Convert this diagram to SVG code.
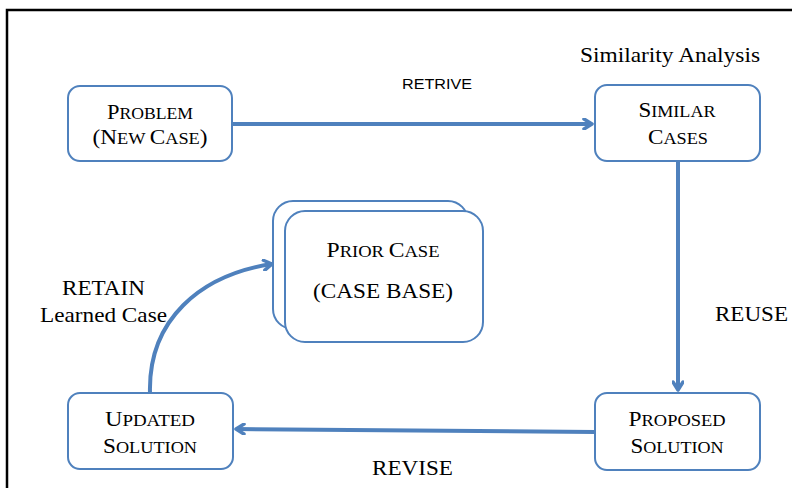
<svg xmlns="http://www.w3.org/2000/svg" width="792" height="488" viewBox="0 0 792 488">
<style>
.box{fill:#fff;stroke:#4F81BD;stroke-width:2}
.con{fill:none;stroke:#4F81BD;stroke-width:4}
.t{font-family:"Liberation Serif","Times New Roman",serif;fill:#000;text-anchor:middle}
.b{font-size:21px}
.s{font-size:16.5px}
.lbl{font-family:"Liberation Serif","Times New Roman",serif;font-size:21px;fill:#000}
</style>
<defs>
<marker id="ah" viewBox="0 0 12 12" refX="10" refY="6" markerWidth="12" markerHeight="12" markerUnits="userSpaceOnUse" orient="auto">
<path d="M2,1 L10,6 L2,11" fill="none" stroke="#4F81BD" stroke-width="3.5" stroke-linecap="round" stroke-linejoin="round"/>
</marker>
</defs>
<rect width="792" height="488" fill="#fff"/>
<path d="M7,488 V10 H792" fill="none" stroke="#000" stroke-width="2.5"/>
<g id="connectors">
<path class="con" d="M232,124 H592" marker-end="url(#ah)"/>
<path class="con" d="M678,161 V390" marker-end="url(#ah)"/>
<path class="con" d="M595,432 L236,429" marker-end="url(#ah)"/>
<path class="con" d="M150,393 C148,320 200,275 272,264" marker-end="url(#ah)"/>
</g>
<text class="lbl" x="580" y="62" textLength="180" lengthAdjust="spacingAndGlyphs">Similarity Analysis</text>
<text x="402" y="89" font-family="Liberation Sans, Arial, sans-serif" font-size="15" textLength="70" lengthAdjust="spacingAndGlyphs">RETRIVE</text>
<text class="lbl" x="715" y="321" textLength="73" lengthAdjust="spacingAndGlyphs">REUSE</text>
<text class="lbl" x="372" y="475" textLength="81" lengthAdjust="spacingAndGlyphs">REVISE</text>
<text class="lbl" x="62" y="295" textLength="83" lengthAdjust="spacingAndGlyphs">RETAIN</text>
<text class="lbl" x="40" y="322" textLength="127" lengthAdjust="spacingAndGlyphs">Learned Case</text>
<g id="problem">
<rect class="box" x="68" y="86" width="164" height="75" rx="12"/>
<text class="t" x="150" y="119" textLength="86" lengthAdjust="spacingAndGlyphs"><tspan class="b">P</tspan><tspan class="s">ROBLEM</tspan></text>
<text class="t" x="150" y="144" textLength="115" lengthAdjust="spacingAndGlyphs"><tspan class="b">(N</tspan><tspan class="s">EW </tspan><tspan class="b">C</tspan><tspan class="s">ASE</tspan><tspan class="b">)</tspan></text>
</g>
<g id="similar">
<rect class="box" x="595" y="85" width="165" height="76" rx="12"/>
<text class="t" x="677" y="117" textLength="77" lengthAdjust="spacingAndGlyphs"><tspan class="b">S</tspan><tspan class="s">IMILAR</tspan></text>
<text class="t" x="678" y="144" textLength="60" lengthAdjust="spacingAndGlyphs"><tspan class="b">C</tspan><tspan class="s">ASES</tspan></text>
</g>
<g id="prior">
<rect class="box" x="273" y="201" width="195" height="128" rx="20"/>
<rect class="box" x="285" y="211" width="198" height="131" rx="20"/>
<text class="t" x="383" y="257" textLength="113" lengthAdjust="spacingAndGlyphs"><tspan class="b">P</tspan><tspan class="s">RIOR </tspan><tspan class="b">C</tspan><tspan class="s">ASE</tspan></text>
<text class="t b" x="383" y="298" textLength="140" lengthAdjust="spacingAndGlyphs">(CASE BASE)</text>
</g>
<g id="updated">
<rect class="box" x="68" y="393" width="165" height="76" rx="12"/>
<text class="t" x="150" y="426" textLength="90" lengthAdjust="spacingAndGlyphs"><tspan class="b">U</tspan><tspan class="s">PDATED</tspan></text>
<text class="t" x="150" y="453" textLength="94" lengthAdjust="spacingAndGlyphs"><tspan class="b">S</tspan><tspan class="s">OLUTION</tspan></text>
</g>
<g id="proposed">
<rect class="box" x="595" y="393" width="165" height="77" rx="12"/>
<text class="t" x="677" y="426" textLength="97" lengthAdjust="spacingAndGlyphs"><tspan class="b">P</tspan><tspan class="s">ROPOSED</tspan></text>
<text class="t" x="677" y="453" textLength="93" lengthAdjust="spacingAndGlyphs"><tspan class="b">S</tspan><tspan class="s">OLUTION</tspan></text>
</g>
</svg>
